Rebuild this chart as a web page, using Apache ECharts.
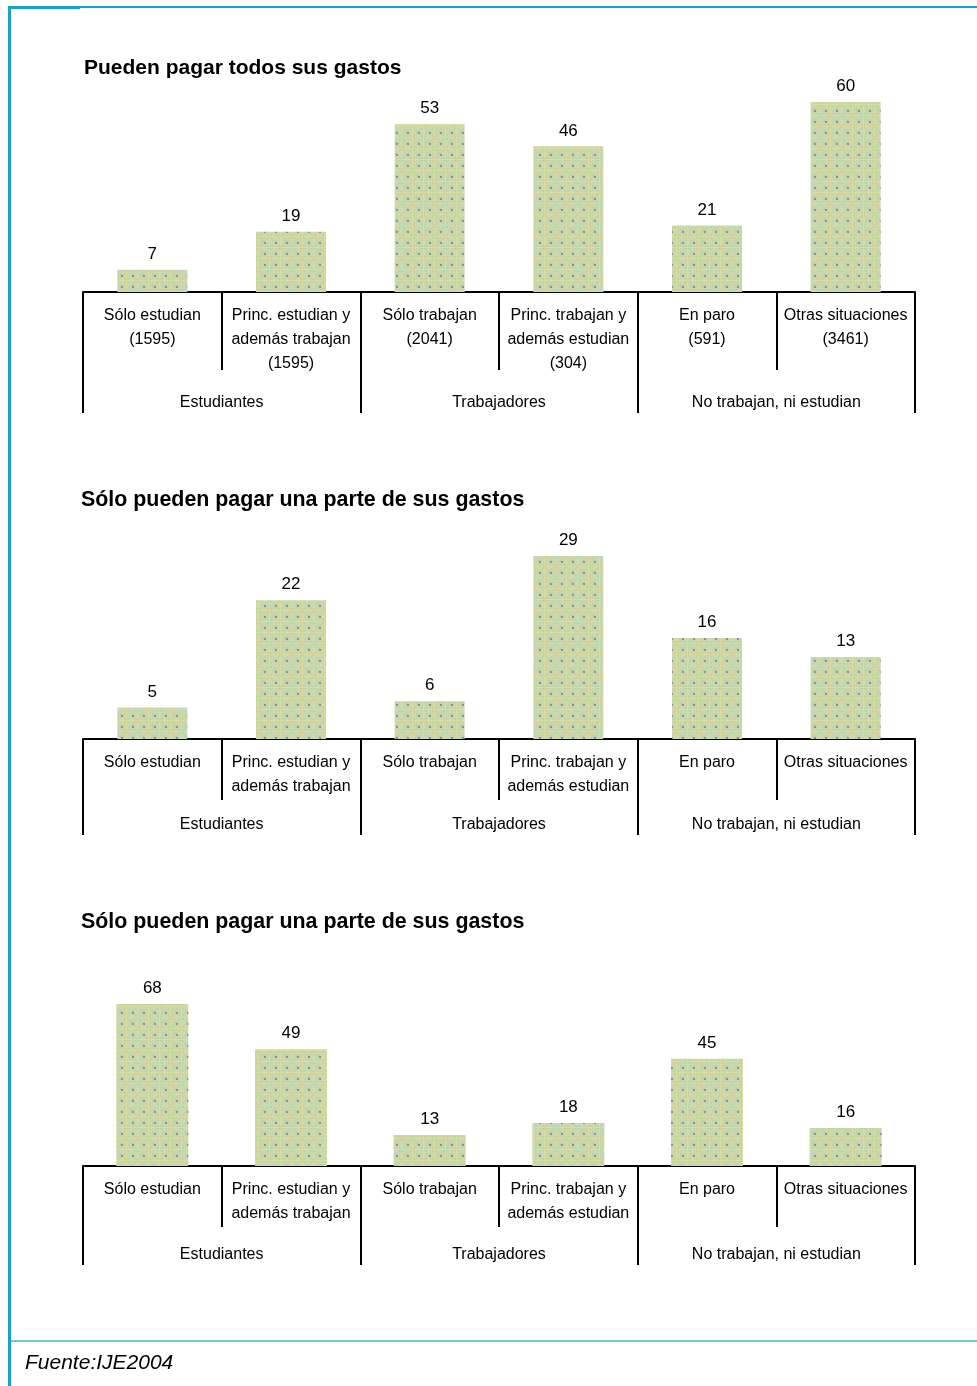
<!DOCTYPE html>
<html>
<head>
<meta charset="utf-8">
<script src="https://cdn.jsdelivr.net/npm/echarts@6/dist/echarts.min.js"></script>
<style>
  html, body { margin: 0; padding: 0; background: #ffffff; }
  #chart { width: 977px; height: 1386px; }
</style>
</head>
<body>
<div id="chart"></div>
<script>
// Categories shared by the three panels
const categories = [
  'Sólo estudian',
  'Princ. estudian y\nademás trabajan',
  'Sólo trabajan',
  'Princ. trabajan y\nademás estudian',
  'En paro',
  'Otras situaciones'
];
// Number of respondents per category (shown in the first panel)
const sampleSizes = ['(1595)', '(1595)', '(2041)', '(304)', '(591)', '(3461)'];
const groups = ['Estudiantes', 'Trabajadores', 'No trabajan, ni estudian'];

const panelTitles = [
  'Pueden pagar todos sus gastos',
  'Sólo pueden pagar una parte de sus gastos',
  'Sólo pueden pagar una parte de sus gastos'
];

// Percentages per category
const pagarTodos = [7, 19, 53, 46, 21, 60];
const pagarParte = [5, 22, 6, 29, 16, 13];
const pagarParteB = [68, 49, 13, 18, 45, 16];

const sourceNote = 'Fuente:IJE2004';

// Dotted khaki/green fill used by the bars
function makePattern() {
  const c = document.createElement('canvas');
  const s = 11;
  c.width = s; c.height = s;
  const g = c.getContext('2d');
  g.fillStyle = '#cbd6aa';
  g.fillRect(0, 0, s, s);
  g.fillStyle = '#a9d6ab';
  for (let i = 0; i < s; i++) {
    g.fillRect(i, i, 1, 1);
    g.fillRect(s - 1 - i, i, 1, 1);
  }
  g.fillStyle = '#dcdc98';
  g.fillRect(0, 5, s, 1);
  g.fillRect(5, 0, 1, s);
  g.fillStyle = '#c4d9b8';
  g.fillRect(2, 2, 1, 1); g.fillRect(8, 2, 1, 1);
  g.fillRect(2, 8, 1, 1); g.fillRect(8, 8, 1, 1);
  g.fillStyle = '#8f8f96';
  g.fillRect(0, 0, 2, 2);
  return c;
}
const barFill = { image: makePattern(), repeat: 'repeat' };

// Per-panel geometry: plot top, plot height, short/long divider lengths, group label margin
const panels = [
  { data: pagarTodos, withCounts: true, top: 102, height: 190, shortTick: 78, longTick: 121, groupMargin: 99, titleTop: 58, titleLeft: 84, titleSize: 21 },
  { data: pagarParte, withCounts: false, top: 556, height: 183, shortTick: 61, longTick: 96, groupMargin: 74, titleTop: 490, titleLeft: 81, titleSize: 21.4 },
  { data: pagarParteB, withCounts: false, top: 1004, height: 162, shortTick: 61, longTick: 99, groupMargin: 77, titleTop: 912, titleLeft: 81, titleSize: 21.4 }
];

const FONT = '"Liberation Sans", Arial, sans-serif';

const option = {
  backgroundColor: '#ffffff',
  animation: false,
  title: [],
  grid: [],
  xAxis: [],
  yAxis: [],
  series: [],
  graphic: []
};

panels.forEach((p, i) => {
  option.title.push({
    text: panelTitles[i],
    left: p.titleLeft,
    top: p.titleTop,
    padding: 0,
    textStyle: { fontFamily: FONT, fontSize: p.titleSize, fontWeight: 'bold', color: '#000' }
  });
  option.grid.push({
    left: 83, right: 62, top: p.top, height: p.height,
    outerBoundsMode: 'none', containLabel: false
  });
  const labels = categories.map((c, k) => p.withCounts ? c + '\n' + sampleSizes[k] : c);
  // category axis: baseline, short dividers and category labels
  option.xAxis.push({
    type: 'category',
    gridIndex: i,
    position: 'bottom',
    data: labels,
    boundaryGap: true,
    axisLine: { show: true, lineStyle: { color: '#000', width: 2 } },
    axisTick: { show: true, interval: 0, length: p.shortTick, lineStyle: { color: '#000', width: 2 } },
    axisLabel: {
      interval: 0, margin: 12, color: '#000', fontFamily: FONT, fontSize: 16, lineHeight: 24, align: 'center'
    },
    splitLine: { show: false }
  });
  // group axis: long dividers and group names
  option.xAxis.push({
    type: 'category',
    gridIndex: i,
    position: 'bottom',
    offset: 0,
    data: groups,
    boundaryGap: true,
    axisLine: { show: false },
    axisTick: { show: true, interval: 0, length: p.longTick, lineStyle: { color: '#000', width: 2 } },
    axisLabel: {
      interval: 0, margin: p.groupMargin, color: '#000', fontFamily: FONT, fontSize: 16, lineHeight: 24
    },
    splitLine: { show: false }
  });
  option.yAxis.push({
    type: 'value',
    gridIndex: i,
    min: 0,
    max: (v) => v.max,
    show: false,
    splitLine: { show: false }
  });
  option.series.push({
    type: 'bar',
    xAxisIndex: i * 2,
    yAxisIndex: i,
    data: p.data,
    barWidth: i === 2 ? 72 : 70,
    itemStyle: { color: barFill },
    label: {
      show: true, position: 'top', distance: 7,
      color: '#000', fontFamily: FONT, fontSize: 17
    }
  });
});

// Frame lines and source note
option.graphic = [
  { type: 'rect', shape: { x: 8, y: 6, width: 3, height: 1380 }, style: { fill: '#1aa3c8' }, silent: true },
  { type: 'rect', shape: { x: 8, y: 6, width: 969, height: 2 }, style: { fill: '#1aa3c8' }, silent: true },
  { type: 'rect', shape: { x: 8, y: 6, width: 72, height: 3 }, style: { fill: '#1aa3c8' }, silent: true },
  { type: 'rect', shape: { x: 11, y: 1340, width: 966, height: 2 }, style: { fill: '#6fc6de' }, silent: true },
  {
    type: 'text', left: 25, top: 1353,
    style: { text: sourceNote, fill: '#000', font: 'italic 21px ' + FONT }
  }
];

const chart = echarts.init(document.getElementById('chart'), null, { renderer: 'canvas' });
chart.setOption(option);
</script>
</body>
</html>
